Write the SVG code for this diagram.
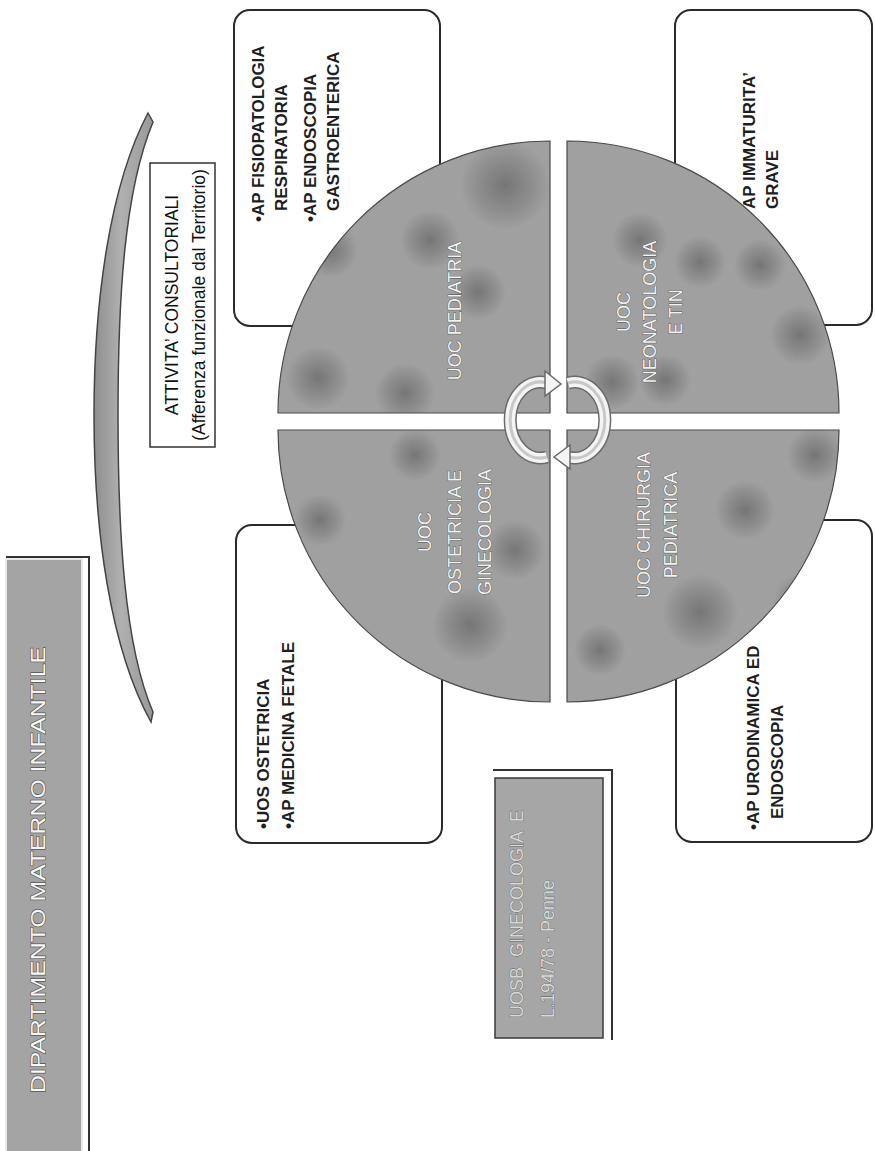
<svg xmlns="http://www.w3.org/2000/svg" width="875" height="1151" viewBox="0 0 875 1151">
<style>
.bx{fill:#fff;stroke:#2a2a2a;stroke-width:2}
.bt{font-family:"Liberation Sans",Arial,sans-serif;font-weight:bold;font-size:17px;fill:#1e1e1e}
.qt{font-family:"Liberation Sans",Arial,sans-serif;font-size:18px;fill:#f2f2f2;stroke:#505050;stroke-width:0.8;paint-order:stroke;text-anchor:middle}
.q{fill:#a0a0a0;stroke:#4a4a4a;stroke-width:1.2}
.at{font-family:"Liberation Sans",Arial,sans-serif;font-size:17.5px;fill:#111;text-anchor:middle}
.blob{fill:url(#bl)}
.ut{font-family:"Liberation Sans",Arial,sans-serif;font-size:18px;fill:#d8d8d8;stroke:#555;stroke-width:0.6;paint-order:stroke}
</style>
<defs>
<radialGradient id="bl">
<stop offset="0" stop-color="#3c3c3c" stop-opacity="0.42"/>
<stop offset="0.6" stop-color="#3c3c3c" stop-opacity="0.18"/>
<stop offset="1" stop-color="#3c3c3c" stop-opacity="0"/>
</radialGradient>
<linearGradient id="cr" x1="0" y1="0" x2="1" y2="0">
<stop offset="0" stop-color="#8e8e8e"/>
<stop offset="0.45" stop-color="#b0b0b0"/>
<stop offset="1" stop-color="#999"/>
</linearGradient>
<clipPath id="qc">
<path d="M550,413 L550,141 A272,272 0 0,0 278,413 Z"/>
<path d="M567,413 L567,141 A272,272 0 0,1 839,413 Z"/>
<path d="M550,430 L278,430 A272,272 0 0,0 550,702 Z"/>
<path d="M567,430 L839,430 A272,272 0 0,1 567,702 Z"/>
</clipPath>
</defs>
<rect width="875" height="1151" fill="#fff"/>

<g id="title">
<rect x="6" y="559" width="76" height="600" fill="#a4a4a4" stroke="#e8e8e8" stroke-width="2"/>
<path d="M6,557 L89,557 L89,1151" fill="none" stroke="#333" stroke-width="2"/>
<text x="0" y="0" transform="translate(45,870) rotate(-90)" text-anchor="middle" font-family="'Liberation Sans',Arial,sans-serif" font-size="20" fill="#f7f7f7" stroke="#555" stroke-width="1.2" paint-order="stroke" textLength="446" lengthAdjust="spacingAndGlyphs">DIPARTIMENTO MATERNO INFANTILE</text>
</g>

<g id="brace">
<path d="M148,113 C110,185 94,300 94,415 C94,530 110,648 151,722 L153,712 C124,645 118,530 118,415 C118,300 124,192 153,122 Z" fill="url(#cr)" stroke="#444" stroke-width="1.5"/>
</g>

<g id="attivita">
<rect x="150" y="163" width="65" height="284" fill="#fff" stroke="#333" stroke-width="1.5"/>
<text class="at" transform="translate(178,305) rotate(-90)">ATTIVITA’ CONSULTORIALI</text>
<text class="at" transform="translate(205,305) rotate(-90)">(Afferenza funzionale dal Territorio)</text>
</g>

<g id="box-pediatria">
<rect class="bx" x="234" y="10" width="206" height="316" rx="16"/>
<text class="bt" transform="translate(264,222) rotate(-90)">•AP FISIOPATOLOGIA</text>
<text class="bt" transform="translate(287,211) rotate(-90)">RESPIRATORIA</text>
<text class="bt" transform="translate(316,222) rotate(-90)">•AP ENDOSCOPIA</text>
<text class="bt" transform="translate(339,211) rotate(-90)">GASTROENTERICA</text>
</g>

<g id="box-ostetricia">
<rect class="bx" x="236" y="525" width="206" height="318" rx="16"/>
<text class="bt" transform="translate(269,829) rotate(-90)">•UOS OSTETRICIA</text>
<text class="bt" transform="translate(294,829) rotate(-90)">•AP MEDICINA FETALE</text>
</g>

<g id="box-neonatologia">
<rect class="bx" x="675" y="10" width="197" height="315" rx="16"/>
<text class="bt" transform="translate(755,209) rotate(-90)">AP IMMATURITA’</text>
<text class="bt" transform="translate(778,209) rotate(-90)">GRAVE</text>
</g>

<g id="box-chirurgia">
<rect class="bx" x="676" y="520" width="196" height="322" rx="16"/>
<text class="bt" transform="translate(759,830) rotate(-90)">•AP URODINAMICA ED</text>
<text class="bt" transform="translate(783,819) rotate(-90)">ENDOSCOPIA</text>
</g>

<g id="circle">
<path class="q" d="M550,413 L550,141 A272,272 0 0,0 278,413 Z"/>
<path class="q" d="M567,413 L567,141 A272,272 0 0,1 839,413 Z"/>
<path class="q" d="M550,430 L278,430 A272,272 0 0,0 550,702 Z"/>
<path class="q" d="M567,430 L839,430 A272,272 0 0,1 567,702 Z"/>
<g clip-path="url(#qc)">
<circle class="blob" cx="318" cy="378" r="32"/>
<circle class="blob" cx="405" cy="393" r="30"/>
<circle class="blob" cx="505" cy="185" r="45"/>
<circle class="blob" cx="430" cy="240" r="30"/>
<circle class="blob" cx="478" cy="292" r="28"/>
<circle class="blob" cx="330" cy="250" r="28"/>
<circle class="blob" cx="470" cy="625" r="38"/>
<circle class="blob" cx="515" cy="550" r="30"/>
<circle class="blob" cx="320" cy="520" r="26"/>
<circle class="blob" cx="415" cy="455" r="26"/>
<circle class="blob" cx="640" cy="240" r="28"/>
<circle class="blob" cx="700" cy="262" r="26"/>
<circle class="blob" cx="760" cy="265" r="26"/>
<circle class="blob" cx="800" cy="335" r="30"/>
<circle class="blob" cx="612" cy="382" r="28"/>
<circle class="blob" cx="665" cy="380" r="26"/>
<circle class="blob" cx="700" cy="612" r="38"/>
<circle class="blob" cx="745" cy="510" r="30"/>
<circle class="blob" cx="815" cy="455" r="28"/>
<circle class="blob" cx="600" cy="650" r="26"/>
<circle class="blob" cx="800" cy="600" r="26"/>
</g>
<text class="qt" transform="translate(461,311) rotate(-90)">UOC PEDIATRIA</text>
<text class="qt" transform="translate(431,532) rotate(-90)">UOC</text>
<text class="qt" transform="translate(461,532) rotate(-90)">OSTETRICIA E</text>
<text class="qt" transform="translate(491,532) rotate(-90)">GINECOLOGIA</text>
<text class="qt" transform="translate(630,312) rotate(-90)">UOC</text>
<text class="qt" transform="translate(656,312) rotate(-90)">NEONATOLOGIA</text>
<text class="qt" transform="translate(682,312) rotate(-90)">E TIN</text>
<text class="qt" transform="translate(650,525) rotate(-90)">UOC CHIRURGIA</text>
<text class="qt" transform="translate(677,525) rotate(-90)">PEDIATRICA</text>
</g>

<g id="uosb">
<path d="M493,770 L612,770 L612,1040" fill="none" stroke="#333" stroke-width="2"/>
<rect x="495" y="778" width="108" height="260" fill="#a6a6a6" stroke="#3a3a3a" stroke-width="1.5"/>
<text class="ut" transform="translate(523,1018) rotate(-90)" xml:space="preserve">UOSB  GINECOLOGIA  E</text>
<text class="ut" transform="translate(554,1018) rotate(-90)">L.194/78 - Penne</text>
</g>

<g id="connectors">
<path d="M547,457 A30,38 0 1,1 547,383" fill="none" stroke="#6a6a6a" stroke-width="13"/>
<path d="M547,457 A30,38 0 1,1 547,383" fill="none" stroke="#f4f4f4" stroke-width="10"/>
<path d="M547,457 A30,38 0 1,1 547,383" fill="none" stroke="#c8c8c8" stroke-width="3"/>
<polygon points="545,371 561,384 545,396" fill="#f4f4f4" stroke="#6a6a6a" stroke-width="1.5"/>
<path d="M568,383 A30,38 0 1,1 568,457" fill="none" stroke="#6a6a6a" stroke-width="13"/>
<path d="M568,383 A30,38 0 1,1 568,457" fill="none" stroke="#f4f4f4" stroke-width="10"/>
<path d="M568,383 A30,38 0 1,1 568,457" fill="none" stroke="#c8c8c8" stroke-width="3"/>
<polygon points="570,445 554,457 570,469" fill="#f4f4f4" stroke="#6a6a6a" stroke-width="1.5"/>
</g>
</svg>
